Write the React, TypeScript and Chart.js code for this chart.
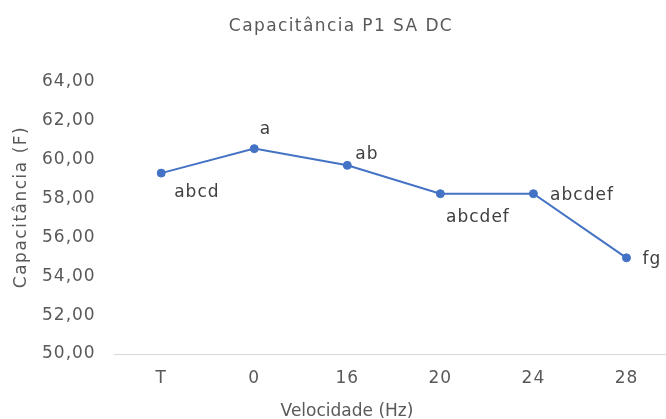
import React, { useEffect, useRef } from "react";
import { Chart, registerables } from "chart.js";

Chart.register(...registerables);

// ---- data ----
const categories = ["T", "0", "16", "20", "24", "28"];
const capacitance = [59.31, 60.57, 59.71, 58.25, 58.25, 54.95];
const groupLetters = ["abcd", "a", "ab", "abcdef", "abcdef", "fg"];
const yMin = 50;
const yMax = 64;
const yStep = 2;
const chartTitle = "Capacitância P1 SA DC";
const xTitle = "Velocidade (Hz)";
const yTitle = "Capacitância (F)";

// ---- style ----
const FONT = '"DejaVu Sans", Verdana, sans-serif';
const TEXT = "#595959";
const LABEL_TEXT = "#404040";
const LINE = "#4472C4";
// pixel offsets of each letter label relative to its point (left / baseline)
const labelOffsets: [number, number][] = [
  [13, 24],
  [5.6, -14.3],
  [8, -6.7],
  [5.7, 28.4],
  [16.7, 6.7],
  [16, 6],
];

const spacingPlugin = {
  id: "letterSpacing",
  beforeUpdate(chart: any) {
    chart.ctx.letterSpacing = "1px";
  },
  beforeDraw(chart: any) {
    chart.ctx.letterSpacing = "1px";
  },
};

const letterLabelsPlugin = {
  id: "letterLabels",
  afterDatasetsDraw(chart: any) {
    const ctx = chart.ctx;
    const meta = chart.getDatasetMeta(0);
    ctx.save();
    ctx.letterSpacing = "1px";
    ctx.font = `17px ${FONT}`;
    ctx.fillStyle = LABEL_TEXT;
    ctx.textAlign = "left";
    ctx.textBaseline = "alphabetic";
    meta.data.forEach((pt: any, i: number) => {
      const [dx, dy] = labelOffsets[i];
      ctx.fillText(groupLetters[i], pt.x + dx, pt.y + dy);
    });
    ctx.restore();
  },
};

// chart title and both axis titles, placed like the reference (not centred on the plot)
const titlesPlugin = {
  id: "titles",
  afterDraw(chart: any) {
    const ctx = chart.ctx;
    ctx.save();
    ctx.fillStyle = TEXT;
    ctx.textBaseline = "alphabetic";
    ctx.textAlign = "center";

    // main title
    ctx.letterSpacing = "1.4px";
    ctx.font = `17px ${FONT}`;
    ctx.fillText(chartTitle, 341, 30.5);

    // x axis title
    ctx.letterSpacing = "0px";
    ctx.font = `17px ${FONT}`;
    ctx.fillText(xTitle, 347, chart.height - 3.5);

    // y axis title (rotated)
    ctx.save();
    ctx.translate(25.5, 207);
    ctx.rotate(-Math.PI / 2);
    ctx.letterSpacing = "1.5px";
    ctx.font = `17px ${FONT}`;
    ctx.fillText(yTitle, 0, 0);
    ctx.restore();

    ctx.restore();
  },
};

export default function App() {
  const canvasRef = useRef<HTMLCanvasElement | null>(null);

  useEffect(() => {
    document.documentElement.style.overflow = "hidden";
    document.body.style.overflow = "hidden";
    const canvas = canvasRef.current;
    if (!canvas) return;
    const chart = new Chart(canvas, {
      type: "line",
      data: {
        labels: categories,
        datasets: [
          {
            data: capacitance,
            borderColor: LINE,
            backgroundColor: LINE,
            borderWidth: 2,
            pointRadius: 4,
            pointBorderWidth: 1,
            pointBackgroundColor: LINE,
            pointBorderColor: LINE,
            tension: 0,
            fill: false,
          },
        ],
      },
      options: {
        animation: false,
        responsive: true,
        maintainAspectRatio: false,
        layout: { padding: { left: 23, right: 0, top: 82, bottom: 16.6 } },
        plugins: {
          legend: { display: false },
          tooltip: { enabled: false },
          title: { display: false },
        },
        scales: {
          x: {
            type: "category",
            offset: true,
            grid: { display: false, drawTicks: false },
            border: { display: true, color: "#D9D9D9", width: 1 },
            ticks: {
              color: TEXT,
              font: { family: FONT, size: 17 },
              padding: 14,
              maxRotation: 0,
              autoSkip: false,
            },
          },
          y: {
            min: yMin,
            max: yMax,
            grid: { display: false, drawTicks: false },
            border: { display: false },
            ticks: {
              stepSize: yStep,
              color: TEXT,
              font: { family: FONT, size: 17 },
              padding: 19,
              callback: (v: any) => Number(v).toFixed(2).replace(".", ","),
            },
          },
        },
      },
      plugins: [spacingPlugin, letterLabelsPlugin, titlesPlugin],
    });
    return () => chart.destroy();
  }, []);

  return (
    <div style={{ position: "absolute", left: 0, top: 0, width: 678, height: 419 }}>
      <canvas ref={canvasRef} />
    </div>
  );
}
